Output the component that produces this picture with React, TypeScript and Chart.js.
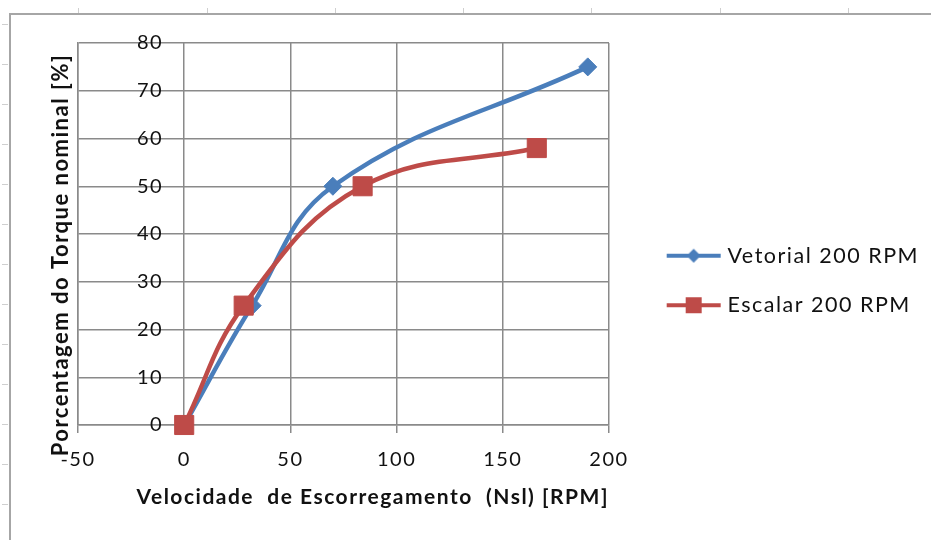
import React, { useEffect, useRef } from "react";
import { Chart, registerables } from "chart.js";

Chart.register(...registerables);

// ---- data ----
const seriesNames = ["Vetorial 200 RPM", "Escalar 200 RPM"];
const vetorialSlip = [0, 32, 70, 190];
const vetorialTorque = [0, 25, 50, 75];
const escalarSlip = [0, 28, 84, 166];
const escalarTorque = [0, 25, 50, 58];
const xTicks = [-50, 0, 50, 100, 150, 200];
const yTicks = [0, 10, 20, 30, 40, 50, 60, 70, 80];
const xTitle = "Velocidade  de Escorregamento  (Nsl) [RPM]";
const yTitle = "Porcentagem do Torque nominal [%]";

// ---- style ----
const BLUE = "#4A7EBB";
const RED = "#BE4B48";
const GRID = "#8a8a8a";
const TEXT = "#111111";
const FONT = "Lato, 'Open Sans', sans-serif";
const PLOT_RIGHT = 609;
const PAD_RIGHT = 2;
const LETTER_SPACING = "1.5px";

function legendIcon(color: string, shape: "diamond" | "square") {
  const c = document.createElement("canvas");
  c.width = 56;
  c.height = 22;
  const g = c.getContext("2d")!;
  g.strokeStyle = color;
  g.lineWidth = 4;
  g.beginPath();
  g.moveTo(1, 11);
  g.lineTo(55, 11);
  g.stroke();
  g.fillStyle = color;
  if (shape === "diamond") {
    g.beginPath();
    g.moveTo(28, 4);
    g.lineTo(35, 11);
    g.lineTo(28, 18);
    g.lineTo(21, 11);
    g.closePath();
    g.fill();
  } else {
    g.fillRect(20, 3, 16, 16);
  }
  return c;
}

const spacingPlugin = {
  id: "spacing",
  beforeLayout(chart: any) {
    (chart.ctx as any).letterSpacing = LETTER_SPACING;
  },
  beforeDraw(chart: any) {
    (chart.ctx as any).letterSpacing = LETTER_SPACING;
  },
};

const sheetPlugin = {
  id: "sheet",
  beforeDraw(chart: any) {
    const { ctx, width, height } = chart;
    ctx.save();
    ctx.fillStyle = "#ffffff";
    ctx.fillRect(0, 0, width, height);
    ctx.strokeStyle = "#cfcfcf";
    ctx.lineWidth = 1;
    [78, 207, 335, 463, 591, 720, 848].forEach((x) => {
      ctx.beginPath();
      ctx.moveTo(x + 0.5, 8);
      ctx.lineTo(x + 0.5, 13);
      ctx.stroke();
    });
    for (let y = 24; y < height; y += 40) {
      ctx.beginPath();
      ctx.moveTo(2, y + 0.5);
      ctx.lineTo(8, y + 0.5);
      ctx.stroke();
    }
    ctx.strokeStyle = "#a6a6a6";
    ctx.lineWidth = 2;
    ctx.beginPath();
    ctx.moveTo(width + 2, 14);
    ctx.lineTo(10, 14);
    ctx.lineTo(10, height + 2);
    ctx.stroke();
    ctx.restore();
  },
};

// y tick labels sit beside the x = 0 crossing (Excel style), title left of the plot
const yAxisTextPlugin = {
  id: "yAxisText",
  beforeDatasetsDraw(chart: any) {
    const xs = chart.scales.x;
    const ys = chart.scales.y;
    const area = chart.chartArea;
    const ctx = chart.ctx;
    ctx.save();
    ctx.font = `20px ${FONT}`;
    ctx.fillStyle = TEXT;
    ctx.textAlign = "right";
    ctx.textBaseline = "middle";
    const x = xs.getPixelForValue(0) - 21;
    yTicks.forEach((v) => ctx.fillText(String(v), x, ys.getPixelForValue(v)));
    ctx.translate(area.left - 17, (area.top + area.bottom) / 2 + 21);
    ctx.rotate(-Math.PI / 2);
    ctx.textAlign = "center";
    ctx.font = `bold 22px ${FONT}`;
    ctx.fillText(yTitle, 0, 0);
    ctx.restore();
  },
};

export default function App() {
  const ref = useRef<HTMLCanvasElement>(null);
  useEffect(() => {
    const icons = [legendIcon(BLUE, "diamond"), legendIcon(RED, "square")];
    const chart = new Chart(ref.current!, {
      type: "line",
      data: {
        datasets: [
          {
            label: seriesNames[0],
            data: vetorialSlip.map((x, i) => ({ x, y: vetorialTorque[i] })),
            borderColor: BLUE,
            backgroundColor: BLUE,
            borderWidth: 4.5,
            tension: 0.4,
            pointStyle: "rectRot",
            pointRadius: 9,
            pointBorderWidth: 1,
            fill: false,
            clip: false,
            order: 2,
          },
          {
            label: seriesNames[1],
            data: escalarSlip.map((x, i) => ({ x, y: escalarTorque[i] })),
            borderColor: RED,
            backgroundColor: RED,
            borderWidth: 4.5,
            tension: 0.4,
            pointStyle: "rect",
            pointRadius: 13.5,
            pointBorderWidth: 1,
            fill: false,
            clip: false,
            order: 1,
          },
        ],
      } as any,
      options: {
        animation: false,
        responsive: false,
        devicePixelRatio: 1,
        events: [],
        layout: { padding: { left: 78, top: 43, bottom: 22, right: PAD_RIGHT } },
        plugins: {
          legend: {
            position: "right",
            align: "center",
            maxWidth: 400,
            labels: {
              usePointStyle: true,
              pointStyleWidth: 46,
              padding: 28,
              color: TEXT,
              font: { family: FONT, size: 21.5 },
              generateLabels: (c: any) =>
                c.data.datasets.map((ds: any, i: number) => ({
                  text: ds.label,
                  pointStyle: icons[i],
                  fillStyle: ds.borderColor,
                  strokeStyle: ds.borderColor,
                  lineWidth: 0,
                  hidden: false,
                  datasetIndex: i,
                  fontColor: TEXT,
                })),
            },
          },
          tooltip: { enabled: false },
        },
        scales: {
          x: {
            type: "linear",
            position: "bottom",
            min: -50,
            max: 200,
            afterBuildTicks: (s: any) => {
              s.ticks = xTicks.map((v) => ({ value: v }));
            },
            ticks: {
              color: TEXT,
              font: { family: FONT, size: 20 },
              padding: 15,
              autoSkip: false,
              maxRotation: 0,
            },
            grid: { color: GRID, lineWidth: 1.5, tickLength: 8, tickColor: GRID },
            border: { color: GRID, width: 1.5 },
            title: {
              display: true,
              text: xTitle,
              align: "end",
              color: TEXT,
              font: { family: FONT, size: 21, weight: "bold" },
              padding: { top: -2.6, bottom: 8.4 },
            },
          },
          y: {
            type: "linear",
            position: "left",
            min: 0,
            max: 80,
            afterBuildTicks: (s: any) => {
              s.ticks = yTicks.map((v) => ({ value: v }));
            },
            ticks: { display: false },
            grid: { color: GRID, lineWidth: 1.5, drawTicks: false },
            border: { color: GRID, width: 1.5 },
            title: { display: false },
          },
          gap: {
            type: "linear",
            position: "right",
            display: true,
            grid: { display: false },
            border: { display: false },
            ticks: { display: false },
            afterFit: (s: any) => {
              const lg = s.chart.legend;
              s.width = Math.max(0, s.chart.width - PAD_RIGHT - (lg ? lg.width : 0) - PLOT_RIGHT);
            },
          },
        },
      } as any,
      plugins: [spacingPlugin, sheetPlugin, yAxisTextPlugin],
    });
    return () => chart.destroy();
  }, []);
  return (
    <canvas
      ref={ref}
      width={931}
      height={540}
      style={{ position: "fixed", left: 0, top: 0, width: 931, height: 540, display: "block" }}
    />
  );
}
